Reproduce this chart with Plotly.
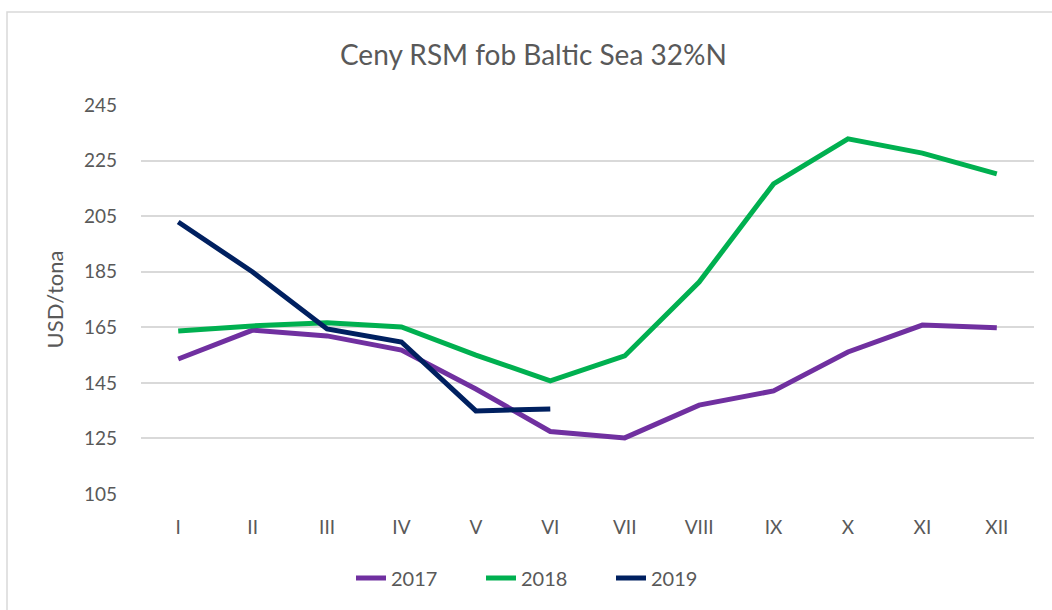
import plotly.graph_objects as go

months = ["I", "II", "III", "IV", "V", "VI", "VII", "VIII", "IX", "X", "XI", "XII"]
s2017 = [153.6, 164.0, 161.9, 156.8, 142.8, 127.5, 125.2, 137.0, 142.1, 156.1, 165.8, 164.8]
s2018 = [163.7, 165.5, 166.6, 165.1, 155.0, 145.7, 154.7, 181.3, 216.6, 232.8, 227.7, 220.2]
s2019 = [202.9, 184.9, 164.4, 159.7, 134.9, 135.6]

W, H = 1052, 610
L, R, T, B = 141, 18, 105, 116
pw, ph = W - L - R, H - T - B

fig = go.Figure()
for name, vals, col in [("2017", s2017, "#7030A0"), ("2018", s2018, "#00B050"), ("2019", s2019, "#002060")]:
    fig.add_trace(go.Scatter(x=months[:len(vals)], y=vals, name=name, mode="lines",
                             line=dict(color=col, width=5)))

font = "Lato, 'Liberation Sans Narrow', sans-serif"
fig.update_layout(
    width=W, height=H,
    margin=dict(l=L, r=R, t=T, b=B),
    paper_bgcolor="white", plot_bgcolor="white",
    font=dict(family=font, color="#595959", size=19),
    title=dict(text="Ceny RSM fob Baltic Sea 32%N", x=0.507, xanchor="center", y=0.909, yanchor="middle",
               font=dict(size=28, color="#595959", family=font)),
    xaxis=dict(range=[-0.5, 11.5], showgrid=False, showline=False, zeroline=False, ticks="",
               tickfont=dict(size=19, color="#595959"), ticklabelstandoff=20),
    yaxis=dict(range=[105, 245], dtick=20, tick0=105, showgrid=True, gridcolor="#D9D9D9", gridwidth=1.5,
               zeroline=False, showline=False, ticks="", tickfont=dict(size=19, color="#595959"),
               ticklabelstandoff=23,
               title=dict(text="USD/tona", font=dict(size=22, color="#595959"), standoff=14)),
    legend=dict(orientation="h", x=(351 - L) / pw, xanchor="left", y=-0.216, yanchor="middle",
                font=dict(size=20, color="#595959"), tracegroupgap=0,
                entrywidth=85, entrywidthmode="pixels"),
    shapes=[dict(type="rect", xref="paper", yref="paper",
                 x0=(7 - L) / pw, x1=(W + 10 - L) / pw,
                 y0=(H - B - (H + 10)) / ph, y1=(H - B - 12) / ph,
                 line=dict(color="#D9D9D9", width=1.5), fillcolor="rgba(0,0,0,0)", layer="below")],
)
fig.write_html("out.html", config={"displayModeBar": False},
               post_script="document.body.style.margin='0';document.body.style.padding='0';")
